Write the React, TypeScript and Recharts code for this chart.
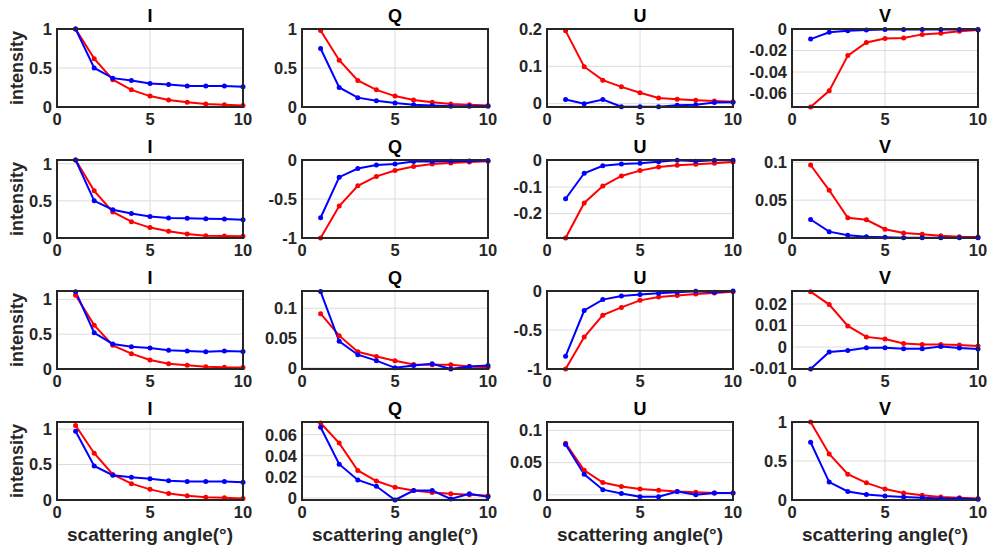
import { LineChart, Line, XAxis, YAxis, CartesianGrid } from "recharts";

// scattering angle (deg)
const angles = [1, 2, 3, 4, 5, 6, 7, 8, 9, 10];
const xTicks = [0, 5, 10];
const titles = ["I", "Q", "U", "V"];

// row 1
const i1Red = [1.0, 0.62, 0.35, 0.22, 0.14, 0.09, 0.06, 0.04, 0.03, 0.02];
const i1Blue = [1.0, 0.5, 0.37, 0.34, 0.3, 0.29, 0.27, 0.27, 0.27, 0.26];
const q1Red = [0.98, 0.6, 0.34, 0.22, 0.14, 0.09, 0.06, 0.04, 0.03, 0.02];
const q1Blue = [0.75, 0.25, 0.12, 0.08, 0.05, 0.03, 0.02, 0.01, 0.01, 0.01];
const u1Red = [0.195, 0.099, 0.063, 0.045, 0.029, 0.015, 0.012, 0.009, 0.007, 0.005];
const u1Blue = [0.011, 0.0, 0.011, -0.008, -0.008, -0.008, -0.004, -0.003, 0.003, 0.004];
const v1Red = [-0.0725, -0.0575, -0.0247, -0.0125, -0.0088, -0.0084, -0.005, -0.004, -0.002, -0.001];
const v1Blue = [-0.0094, -0.003, -0.0016, -0.001, -0.0005, -0.0005, -0.0005, -0.0005, -0.0005, -0.0005];

// row 2
const i2Red = [1.05, 0.635, 0.35, 0.22, 0.14, 0.09, 0.055, 0.03, 0.027, 0.023];
const i2Blue = [1.05, 0.5, 0.38, 0.33, 0.29, 0.27, 0.265, 0.26, 0.255, 0.245];
const q2Red = [-1.0, -0.59, -0.33, -0.21, -0.135, -0.083, -0.052, -0.04, -0.026, -0.017];
const q2Blue = [-0.74, -0.22, -0.11, -0.065, -0.05, -0.02, -0.02, -0.017, -0.013, -0.005];
const u2Red = [-0.292, -0.16, -0.096, -0.058, -0.038, -0.024, -0.018, -0.014, -0.01, -0.006];
const u2Blue = [-0.144, -0.048, -0.02, -0.013, -0.01, -0.005, 0.001, -0.003, 0.001, 0.001];
const v2Red = [0.0964, 0.063, 0.0267, 0.024, 0.0116, 0.0067, 0.0049, 0.003, 0.0018, 0.0013];
const v2Blue = [0.0244, 0.0084, 0.0036, 0.0018, 0.0009, 0.0004, 0.0004, 0.0004, 0.0004, 0.0004];

// row 3
const i3Red = [1.06, 0.63, 0.34, 0.22, 0.13, 0.077, 0.053, 0.034, 0.024, 0.02];
const i3Blue = [1.11, 0.52, 0.36, 0.32, 0.3, 0.27, 0.26, 0.246, 0.26, 0.25];
const q3Red = [0.091, 0.054, 0.027, 0.019, 0.012, 0.0056, 0.005, 0.005, 0.002, 0.001];
const q3Blue = [0.128, 0.0444, 0.022, 0.012, 0.0, 0.004, 0.0067, -0.002, 0.002, 0.004];
const u3Red = [-1.0, -0.59, -0.31, -0.21, -0.12, -0.078, -0.057, -0.04, -0.026, -0.01];
const u3Blue = [-0.835, -0.25, -0.11, -0.065, -0.045, -0.03, -0.017, -0.004, -0.017, 0.0];
const v3Red = [0.0257, 0.0197, 0.0098, 0.0047, 0.0037, 0.0016, 0.0012, 0.0012, 0.0009, 0.0005];
const v3Blue = [-0.0102, -0.0023, -0.0016, -0.0003, -0.0003, -0.0008, -0.0008, 0.0002, -0.0005, -0.0009];

// row 4
const i4Red = [1.05, 0.66, 0.36, 0.23, 0.15, 0.09, 0.06, 0.04, 0.03, 0.02];
const i4Blue = [0.97, 0.48, 0.35, 0.32, 0.3, 0.27, 0.26, 0.26, 0.26, 0.25];
const q4Red = [0.071, 0.052, 0.026, 0.016, 0.01, 0.007, 0.005, 0.004, 0.003, 0.002];
const q4Blue = [0.067, 0.032, 0.017, 0.011, -0.002, 0.007, 0.007, -0.001, 0.004, 0.001];
const u4Red = [0.08, 0.038, 0.019, 0.013, 0.009, 0.007, 0.005, 0.004, 0.003, 0.003];
const u4Blue = [0.078, 0.032, 0.008, 0.002, -0.003, -0.003, 0.005, 0.0, 0.003, 0.003];
const v4Red = [1.0, 0.59, 0.33, 0.22, 0.14, 0.09, 0.06, 0.04, 0.03, 0.02];
const v4Blue = [0.74, 0.23, 0.11, 0.07, 0.05, 0.04, 0.03, 0.02, 0.02, 0.01];

// y ticks
const ticksUnit = [0, 0.5, 1];
const ticksNegUnit = [-1, -0.5, 0];
const ticksU1 = [0, 0.1, 0.2];
const ticksV1 = [-0.06, -0.04, -0.02, 0];
const ticksU2 = [-0.2, -0.1, 0];
const ticksV2 = [0, 0.05, 0.1];
const ticksQ3 = [0, 0.05, 0.1];
const ticksV3 = [-0.01, 0, 0.01, 0.02];
const ticksQ4 = [0, 0.02, 0.04, 0.06];
const ticksU4 = [0, 0.05, 0.1];

const FONT = '"Liberation Sans", Arial, Helvetica, sans-serif';
const PLOT_W = 186;
const PLOT_H = 78;
const AXIS_W = 52;
const TOP = 14;
const RIGHT = 18;
const X_AXIS_H = 30;
const colLeft = [57, 302, 547, 792];
const rowTop = [29, 160, 291, 422];

type PanelDef = {
  red: number[];
  blue: number[];
  domain: [number, number];
  ticks: number[];
};

const rows: PanelDef[][] = [
  [
    { red: i1Red, blue: i1Blue, domain: [0, 1], ticks: ticksUnit },
    { red: q1Red, blue: q1Blue, domain: [0, 1], ticks: ticksUnit },
    { red: u1Red, blue: u1Blue, domain: [-0.009, 0.2], ticks: ticksU1 },
    { red: v1Red, blue: v1Blue, domain: [-0.0725, 0], ticks: ticksV1 },
  ],
  [
    { red: i2Red, blue: i2Blue, domain: [0, 1.05], ticks: ticksUnit },
    { red: q2Red, blue: q2Blue, domain: [-1, 0], ticks: ticksNegUnit },
    { red: u2Red, blue: u2Blue, domain: [-0.292, 0.002], ticks: ticksU2 },
    { red: v2Red, blue: v2Blue, domain: [0, 0.103], ticks: ticksV2 },
  ],
  [
    { red: i3Red, blue: i3Blue, domain: [0, 1.12], ticks: ticksUnit },
    { red: q3Red, blue: q3Blue, domain: [-0.002, 0.129], ticks: ticksQ3 },
    { red: u3Red, blue: u3Blue, domain: [-1, 0], ticks: ticksNegUnit },
    { red: v3Red, blue: v3Blue, domain: [-0.0102, 0.026], ticks: ticksV3 },
  ],
  [
    { red: i4Red, blue: i4Blue, domain: [0, 1.1], ticks: ticksUnit },
    { red: q4Red, blue: q4Blue, domain: [-0.002, 0.072], ticks: ticksQ4 },
    { red: u4Red, blue: u4Blue, domain: [-0.008, 0.113], ticks: ticksU4 },
    { red: v4Red, blue: v4Blue, domain: [0, 1], ticks: ticksUnit },
  ],
];

const tickStyle = { fontSize: 16.5, fontWeight: 700, fill: "#262626", fontFamily: FONT };

function Panel({ p, left, top }: { p: PanelDef; left: number; top: number }) {
  const data = angles.map((x, i) => ({ x, red: p.red[i], blue: p.blue[i] }));
  return (
    <div style={{ position: "absolute", left: left - AXIS_W, top: top - TOP }}>
      <LineChart
        width={AXIS_W + PLOT_W + RIGHT}
        height={TOP + PLOT_H + X_AXIS_H}
        data={data}
        margin={{ top: TOP, right: RIGHT, bottom: 0, left: 0 }}
      >
        <CartesianGrid stroke="#dcdcdc" strokeWidth={1} />
        <XAxis
          dataKey="x"
          type="number"
          domain={[0, 10]}
          ticks={xTicks}
          interval={0}
          tickLine={false}
          axisLine={false}
          tickSize={0}
          tickMargin={6}
          height={X_AXIS_H}
          tick={tickStyle}
        />
        <YAxis
          type="number"
          domain={p.domain}
          ticks={p.ticks}
          interval={0}
          tickLine={false}
          axisLine={false}
          tickSize={0}
          tickMargin={5}
          width={AXIS_W}
          tick={tickStyle}
          tickFormatter={(v: number) => String(v)}
        />
        <Line
          type="linear"
          dataKey="red"
          stroke="#ff0000"
          strokeWidth={2}
          dot={{ r: 2.5, fill: "#ff0000", stroke: "#ff0000", strokeWidth: 0 }}
          isAnimationActive={false}
        />
        <Line
          type="linear"
          dataKey="blue"
          stroke="#0000ff"
          strokeWidth={2}
          dot={{ r: 2.5, fill: "#0000ff", stroke: "#0000ff", strokeWidth: 0 }}
          isAnimationActive={false}
        />
      </LineChart>
    </div>
  );
}

export default function App() {
  return (
    <div
      style={{
        position: "absolute",
        left: 0,
        top: 0,
        width: 997,
        height: 551,
        background: "#fff",
        fontFamily: FONT,
        color: "#000",
      }}
    >
      {rows.map((row, r) =>
        row.map((p, c) => (
          <div key={`${r}-${c}`}>
            <Panel p={p} left={colLeft[c]} top={rowTop[r]} />
            <div
              style={{
                position: "absolute",
                left: colLeft[c] - 1,
                top: rowTop[r] - 1,
                width: PLOT_W + 2,
                height: PLOT_H + 2,
                border: "2px solid #262626",
                boxSizing: "border-box",
                pointerEvents: "none",
              }}
            />
            <div
              style={{
                position: "absolute",
                left: colLeft[c],
                width: PLOT_W,
                top: rowTop[r] - 23,
                height: 20,
                lineHeight: "20px",
                textAlign: "center",
                fontSize: 18,
                fontWeight: 700,
              }}
            >
              {titles[c]}
            </div>
          </div>
        ))
      )}
      {rowTop.map((t) => (
        <div
          key={`yl-${t}`}
          style={{
            position: "absolute",
            left: 17,
            top: t + PLOT_H / 2,
            transform: "translate(-50%, -50%) rotate(-90deg)",
            whiteSpace: "nowrap",
            fontSize: 18,
            fontWeight: 700,
            color: "#262626",
          }}
        >
          intensity
        </div>
      ))}
      {colLeft.map((l) => (
        <div
          key={`xl-${l}`}
          style={{
            position: "absolute",
            left: l,
            width: PLOT_W,
            top: 524,
            height: 22,
            lineHeight: "22px",
            textAlign: "center",
            fontSize: 19,
            fontWeight: 700,
            color: "#262626",
            whiteSpace: "nowrap",
          }}
        >
          scattering angle(°)
        </div>
      ))}
    </div>
  );
}
